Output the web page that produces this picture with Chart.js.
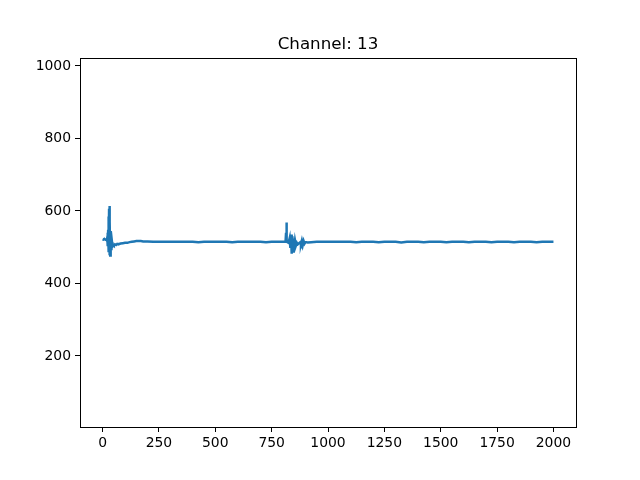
<!DOCTYPE html>
<html>
<head>
<meta charset="utf-8">
<script src="https://cdn.jsdelivr.net/npm/chart.js@4/dist/chart.umd.min.js"></script>
<style>
  body { margin: 0; background: #fff; }
  #wrap { width: 640px; height: 480px; }
</style>
</head>
<body>
<div id="wrap"><canvas id="chart" width="640" height="480"></canvas></div>
<script>
// sample index (x) and reading (y)
var sampleX = [0, 4, 8, 12, 16, 19, 21, 22, 23, 24, 25, 26, 27, 28, 29, 30, 31, 32, 33, 34, 35, 36, 37, 38, 39, 40,
    42, 44, 47, 50, 55, 60, 65, 70, 80, 90, 100, 110, 120, 130, 140, 150, 160, 170, 180, 190, 200,
    225, 250, 275, 300, 325, 350, 375, 400, 425, 450, 475, 500, 525, 550, 575, 600, 625, 650, 675, 700, 725, 750, 775, 800,
    808, 812, 814, 815, 816, 817, 818, 820, 825, 830, 833, 836, 839, 842, 845, 848, 851, 854, 858, 862, 866, 870,
    876, 880, 884, 888, 892, 896, 900, 910, 925, 950, 975, 1000, 1025, 1050, 1075, 1100, 1125, 1150, 1175, 1200,
    1225, 1250, 1275, 1300, 1325, 1350, 1375, 1400, 1425, 1450, 1475, 1500, 1525, 1550, 1575, 1600, 1625, 1650,
    1675, 1700, 1725, 1750, 1775, 1800, 1825, 1850, 1875, 1900, 1925, 1950, 1975, 2000];
var sampleY = [522, 521, 523, 521, 522, 519, 526, 512, 540, 503, 548, 498, 585, 486, 606, 478, 614, 480, 570, 477, 545, 488, 532, 495, 522, 500,
    514, 503, 507, 505, 508, 506, 509, 508, 510, 511, 512, 512, 514, 515, 516, 517, 517, 517, 516, 516, 516,
    515, 515, 515, 515, 515, 515, 515, 515, 514, 515, 515, 515, 515, 515, 514, 515, 515, 515, 515, 515, 514, 515, 515, 515,
    515, 518, 540, 568, 545, 512, 520, 514, 512, 525, 498, 535, 482, 530, 488, 524, 498, 518, 505, 512, 508, 510,
    513, 508, 518, 506, 517, 510, 514, 513, 514, 515, 515, 515, 515, 515, 515, 515, 514, 515, 515, 515,
    514, 515, 515, 515, 513, 515, 515, 515, 514, 515, 515, 515, 514, 515, 515, 515, 514, 515,
    515, 515, 514, 515, 515, 515, 514, 515, 515, 515, 514, 515, 515, 515];

var xTicks = [0, 250, 500, 750, 1000, 1250, 1500, 1750, 2000];
var yTicks = [200, 400, 600, 800, 1000];
var titleText = 'Channel: 13';

var points = sampleX.map(function(x, i) {
    return { x: x, y: sampleY[i] };
});

var tickFont = { family: 'DejaVu Sans', size: 13.9 };

// box around the plot area + title centred on it, like matplotlib
var framePlugin = {
    id: 'frame',
    afterDraw: function(chart) {
        var ctx = chart.ctx;
        var a = chart.chartArea;
        ctx.save();
        ctx.strokeStyle = '#000';
        ctx.lineWidth = 1;
        ctx.strokeRect(Math.round(a.left) + 0.5, Math.round(a.top) + 0.5,
            Math.round(a.right - a.left), Math.round(a.bottom - a.top));
        ctx.fillStyle = '#000';
        ctx.font = '16.7px "DejaVu Sans"';
        ctx.textAlign = 'center';
        ctx.textBaseline = 'alphabetic';
        ctx.fillText(titleText, (a.left + a.right) / 2, a.top - 9);
        ctx.restore();
    }
};

function plainLabel(value) {
    return String(value);
}

new Chart(document.getElementById('chart'), {
    type: 'line',
    data: {
        datasets: [{
            data: points,
            borderColor: '#1f77b4',
            borderWidth: 2.5,
            pointRadius: 0,
            tension: 0,
            fill: false
        }]
    },
    options: {
        responsive: false,
        animation: false,
        layout: { padding: { left: 0, right: 64, top: 58, bottom: 0 } },
        plugins: {
            legend: { display: false },
            title: { display: false },
            tooltip: { enabled: false }
        },
        scales: {
            x: {
                type: 'linear',
                min: -100,
                max: 2100,
                afterBuildTicks: function(scale) {
                    scale.ticks = xTicks.map(function(v) { return { value: v }; });
                },
                afterFit: function(scale) { scale.height = 53; },
                grid: { display: true, drawOnChartArea: false, drawTicks: true, tickLength: 5, color: '#000' },
                border: { display: true, color: '#000' },
                ticks: { color: '#000', font: tickFont, padding: 3, maxRotation: 0, autoSkip: false, callback: plainLabel }
            },
            y: {
                type: 'linear',
                min: 4,
                max: 1022,
                afterBuildTicks: function(scale) {
                    scale.ticks = yTicks.map(function(v) { return { value: v }; });
                },
                afterFit: function(scale) { scale.width = 80; },
                grid: { display: true, drawOnChartArea: false, drawTicks: true, tickLength: 5, color: '#000' },
                border: { display: true, color: '#000' },
                ticks: { color: '#000', font: tickFont, padding: 4, autoSkip: false, callback: plainLabel }
            }
        }
    },
    plugins: [framePlugin]
});
</script>
</body>
</html>
